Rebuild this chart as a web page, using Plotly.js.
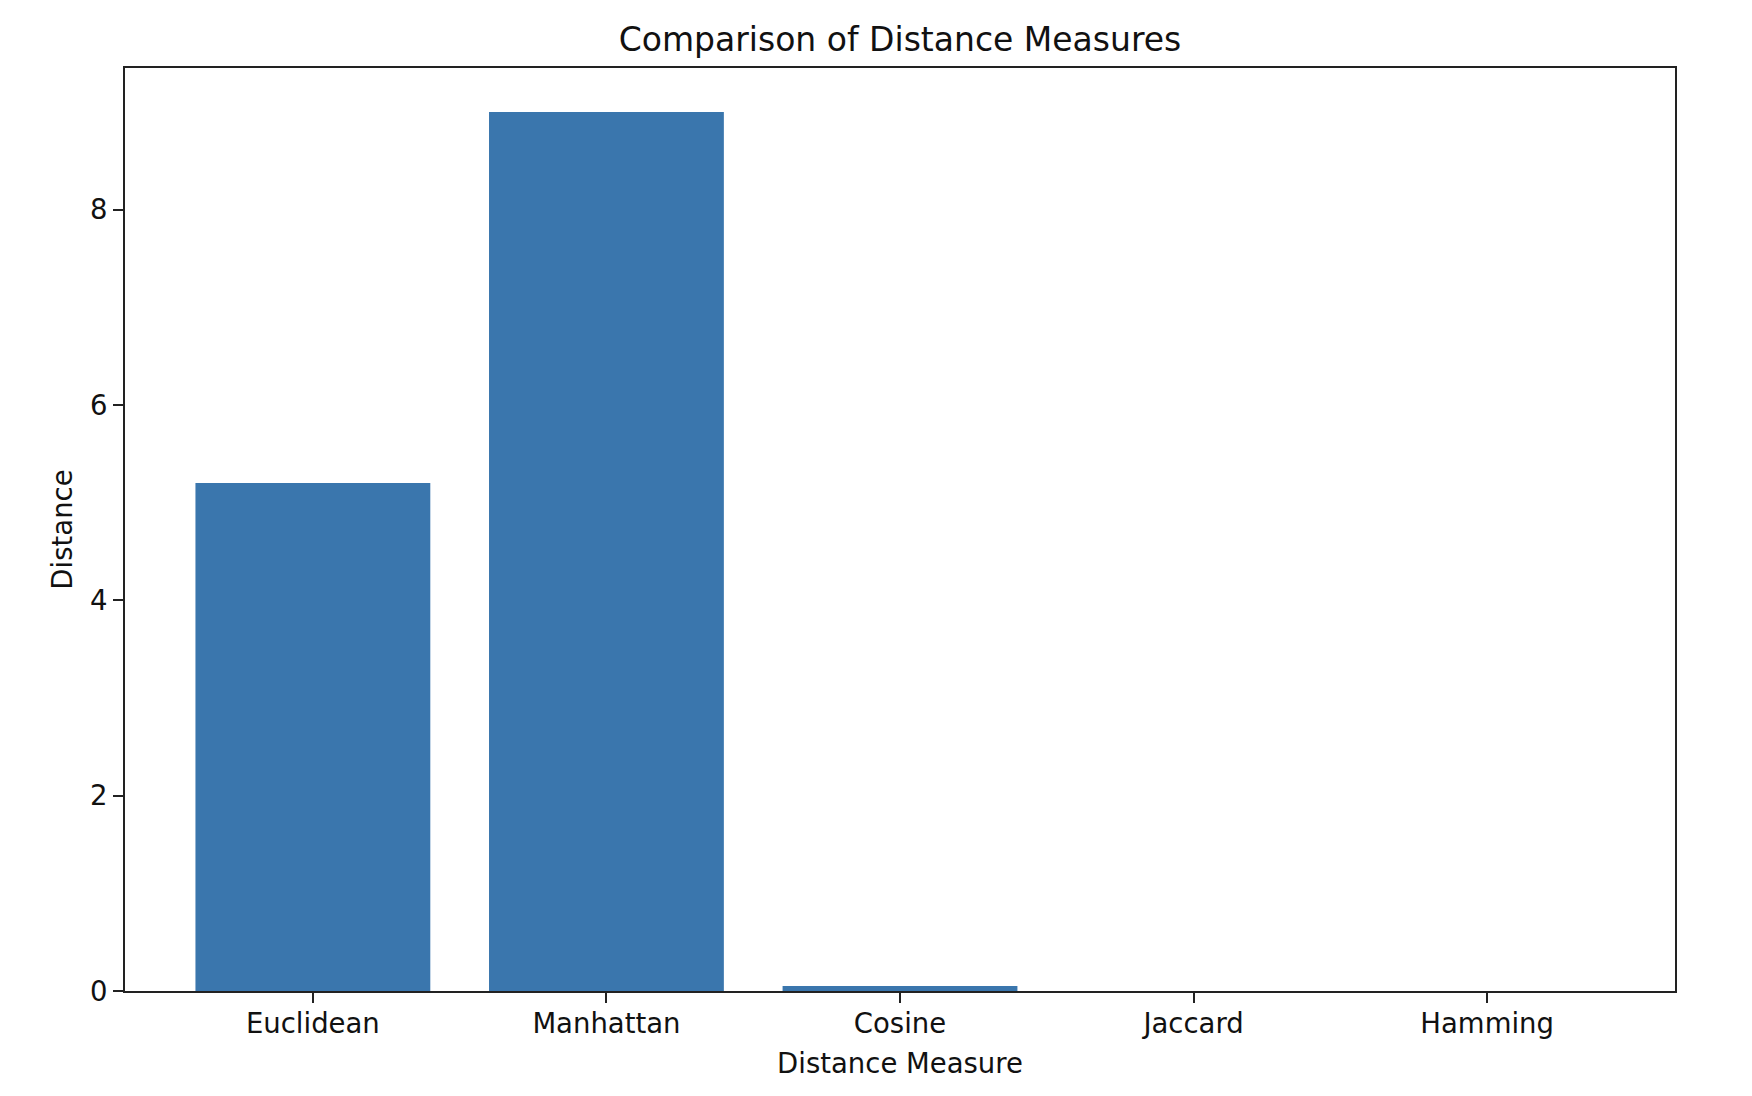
<!DOCTYPE html>
<html>
<head>
<meta charset="utf-8">
<script src="https://cdn.plot.ly/plotly-3.0.1.min.js"></script>
<style>html,body{margin:0;padding:0;background:#fff;}#chart{width:1752px;height:1096px;}</style>
</head>
<body>
<div id="chart"></div>
<script>
const categories = ["Euclidean", "Manhattan", "Cosine", "Jaccard", "Hamming"];
const distances = [5.2, 9.0, 0.05, 0.0, 0.0];
const yTickValues = [0, 2, 4, 6, 8];
const chartTitle = "Comparison of Distance Measures";
const xTitle = "Distance Measure";
const yTitle = "Distance";

const font = {family: "DejaVu Sans, sans-serif", size: 27.5, color: "#111"};

const trace = {
  type: "bar",
  x: categories.map((_, i) => i),
  y: distances,
  width: 0.8,
  marker: {color: "#3a76ad", line: {width: 0}},
  hoverinfo: "skip"
};

const layout = {
  width: 1752, height: 1096,
  paper_bgcolor: "#fff", plot_bgcolor: "#fff",
  margin: {l: 125, r: 77, t: 68, b: 105, pad: 0},
  font: font,
  showlegend: false,
  title: {text: chartTitle, font: {family: font.family, size: 33, color: "#111"},
          x: 0.5, xanchor: "center", xref: "paper", y: 1, yref: "paper", yanchor: "bottom", pad: {b: 17}},
  xaxis: {
    range: [-0.64, 4.64],
    tickmode: "array",
    tickvals: categories.map((_, i) => i),
    ticktext: categories,
    ticks: "outside", ticklen: 10, tickwidth: 2, tickcolor: "#222",
    showline: true, linewidth: 2, linecolor: "#222", mirror: true,
    showgrid: false, zeroline: false,
    ticklabelstandoff: -3,
    tickfont: font,
    title: {text: xTitle, font: font, standoff: 16}
  },
  yaxis: {
    range: [0, 9.45],
    tickmode: "array",
    tickvals: yTickValues,
    ticktext: yTickValues.map(String),
    ticks: "outside", ticklen: 10, tickwidth: 2, tickcolor: "#222",
    showline: true, linewidth: 2, linecolor: "#222", mirror: true,
    showgrid: false, zeroline: false,
    ticklabelstandoff: 0,
    tickfont: font,
    title: {text: yTitle, font: font, standoff: 9}
  }
};

Plotly.newPlot("chart", [trace], layout, {displayModeBar: false, staticPlot: true});
</script>
</body>
</html>
